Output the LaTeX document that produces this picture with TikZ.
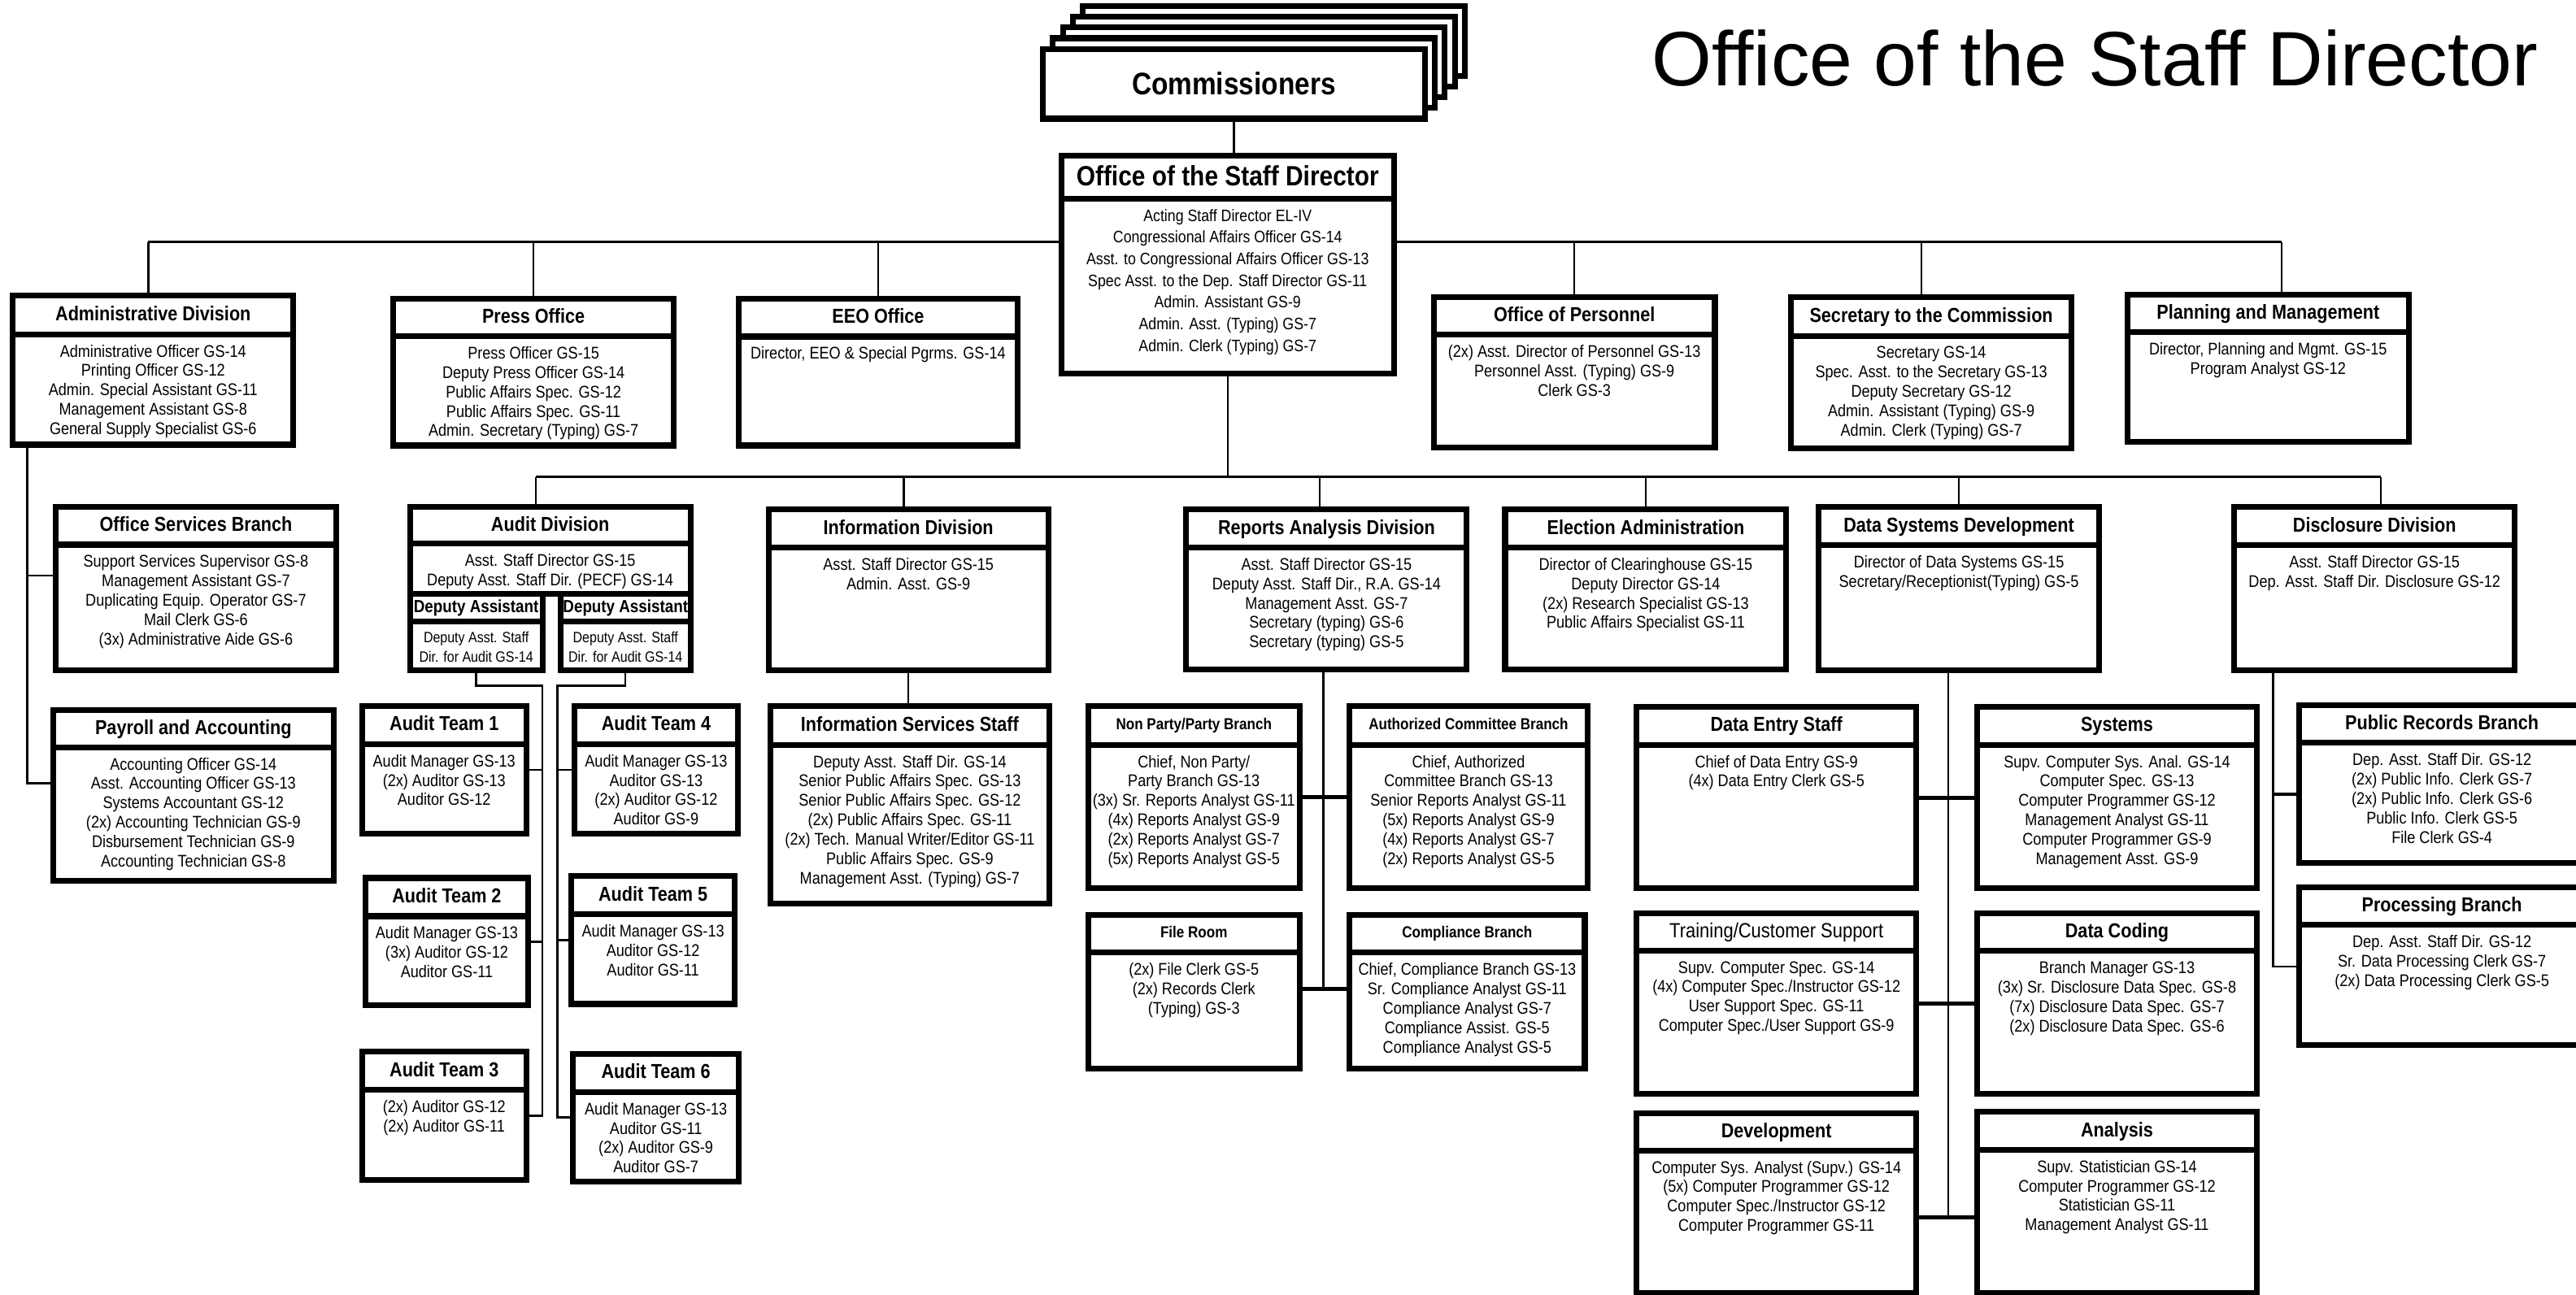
\documentclass[tikz,border=0pt]{standalone}
\usepackage{fontspec}
\setmainfont[FakeStretch=0.87]{Liberation Sans}
\newfontfamily\titlefont{Liberation Sans}
\usetikzlibrary{calc}
\tikzset{
  obx/.style={draw, line width=3.5pt, fill=white, inner sep=0pt, rectangle},
  sepl/.style={line width=3.5pt},
  hdr/.style={font=\bfseries\fontsize{12.3}{14}\selectfont, anchor=base, yshift=-4.4pt, inner sep=0pt},
  hdrr/.style={font=\fontsize{12.5}{14}\selectfont, anchor=base, yshift=-4.5pt, inner sep=0pt},
  hdrs/.style={font=\bfseries\fontsize{9.7}{12}\selectfont, anchor=base, yshift=-3.5pt, inner sep=0pt},
  hdrd/.style={font=\bfseries\fontsize{10.7}{12}\selectfont, anchor=base, yshift=-3.8pt, inner sep=0pt},
  hdrL/.style={font=\bfseries\fontsize{17}{20}\selectfont, anchor=base, yshift=-6.1pt, inner sep=0pt},
  bdy/.style={font=\fontsize{10.3}{11.8}\selectfont, align=center, anchor=north, inner sep=0pt},
  conn/.style={line width=1.2pt},
  conk/.style={line width=2.2pt},
  titl/.style={font=\titlefont\fontsize{47}{50}\selectfont, inner sep=0pt}
}
% name, x1, y1, x2, y2 (outer edges), separator y, header style, header, body
\newcommand\orgbox[9]{%
  \node[obx, minimum width={(#4-#2-3.5)*1pt}, minimum height={(#5-#3-3.5)*1pt}] (#1) at ({(#2+#4)/2},{(#3+#5)/2}) {};
  \draw[sepl] ({#2+1.75},#6) -- ({#4-1.75},#6);
  \node[#7] (#1-h) at ({(#2+#4)/2},{(#3+#6)/2}) {#8};
  \node[bdy] (#1-b) at ({(#2+#4)/2},{#6+6.2}) {#9};
}
\begin{document}
\begin{tikzpicture}[x=1pt,y=-1pt]
\useasboundingbox (0,0) rectangle (1568,788.4);
\clip (0,0) rectangle (1568,788.4);

% title
\node[titl, anchor=base west] (title) at (1005.5,52) {Office of the Staff Director};

% Commissioners stack
\foreach \k in {4,3,2,1} {
  \node[obx, minimum width=232.5pt, minimum height=42.5pt] (comm\k) at ({751+6.1*\k},{51-6.5*\k}) {};
}
\node[obx, minimum width=232.5pt, minimum height=42.5pt] (comm) at (751,51) {};
\node[font=\bfseries\fontsize{19}{22}\selectfont, anchor=base, yshift=-6.8pt, inner sep=0pt] (comm-h) at (751,51) {Commissioners};

% Office of the Staff Director
\begin{scope}[bdy/.append style={font=\fontsize{10.1}{13.2}\selectfont}]
\orgbox{osd}{644.2}{92.9}{850.3}{229.3}{121}{hdrL}{Office of the Staff Director}{Acting Staff Director EL-IV\\Congressional Affairs Officer GS-14\\Asst. to Congressional Affairs Officer GS-13\\Spec Asst. to the Dep. Staff Director GS-11\\Admin. Assistant GS-9\\Admin. Asst. (Typing) GS-7\\Admin. Clerk (Typing) GS-7}
\end{scope}

% top row
\orgbox{admin}{6}{178}{180.4}{272.5}{203.5}{hdr}{Administrative Division}{Administrative Officer GS-14\\Printing Officer GS-12\\Admin. Special Assistant GS-11\\Management Assistant GS-8\\General Supply Specialist GS-6}
\orgbox{press}{237.5}{180}{412}{273}{204.7}{hdr}{Press Office}{Press Officer GS-15\\Deputy Press Officer GS-14\\Public Affairs Spec. GS-12\\Public Affairs Spec. GS-11\\Admin. Secretary (Typing) GS-7}
\orgbox{eeo}{448}{180}{621}{273}{204.9}{hdr}{EEO Office}{Director, EEO \& Special Pgrms. GS-14}
\orgbox{pers}{871}{179}{1045.6}{274}{203.7}{hdr}{Office of Personnel}{(2x) Asst. Director of Personnel GS-13\\Personnel Asst. (Typing) GS-9\\Clerk GS-3}
\orgbox{sec}{1088.3}{179.3}{1262.8}{274.7}{204.6}{hdr}{Secretary to the Commission}{Secretary GS-14\\Spec. Asst. to the Secretary GS-13\\Deputy Secretary GS-12\\Admin. Assistant (Typing) GS-9\\Admin. Clerk (Typing) GS-7}
\orgbox{plan}{1293.3}{177.7}{1467.8}{270.6}{202.4}{hdr}{Planning and Management}{Director, Planning and Mgmt. GS-15\\Program Analyst GS-12}

% admin children
\orgbox{offsvc}{32}{306.7}{206.5}{410}{331.6}{hdr}{Office Services Branch}{Support Services Supervisor GS-8\\Management Assistant GS-7\\Duplicating Equip. Operator GS-7\\Mail Clerk GS-6\\(3x) Administrative Aide GS-6}
\orgbox{payroll}{30.6}{430.4}{204.8}{538}{454.9}{hdr}{Payroll and Accounting}{Accounting Officer GS-14\\Asst. Accounting Officer GS-13\\Systems Accountant GS-12\\(2x) Accounting Technician GS-9\\Disbursement Technician GS-9\\Accounting Technician GS-8}

% second row
\orgbox{auditdiv}{247.8}{306.7}{422}{363.4}{331}{hdr}{Audit Division}{Asst. Staff Director GS-15\\Deputy Asst. Staff Dir. (PECF) GS-14}
\begin{scope}[bdy/.append style={font=\fontsize{9.1}{11.9}\selectfont}]
\orgbox{dep1}{247.8}{359.9}{331.9}{410}{378.2}{hdrd}{Deputy Assistant}{Deputy Asst. Staff\\Dir. for Audit GS-14}
\orgbox{dep2}{339.5}{359.9}{422}{410}{378.2}{hdrd}{Deputy Assistant}{Deputy Asst. Staff\\Dir. for Audit GS-14}
\end{scope}
\orgbox{infodiv}{466}{308.5}{639.9}{410}{333.3}{hdr}{Information Division}{Asst. Staff Director GS-15\\Admin. Asst. GS-9}
\orgbox{rad}{720.3}{308.5}{894.6}{409.5}{333.3}{hdr}{Reports Analysis Division}{Asst. Staff Director GS-15\\Deputy Asst. Staff Dir., R.A. GS-14\\Management Asst. GS-7\\Secretary (typing) GS-6\\Secretary (typing) GS-5}
\orgbox{elect}{914.4}{308.5}{1089.1}{409.5}{333.3}{hdr}{Election Administration}{Director of Clearinghouse GS-15\\Deputy Director GS-14\\(2x) Research Specialist GS-13\\Public Affairs Specialist GS-11}
\orgbox{dsd}{1105.3}{306.9}{1279.4}{410}{332}{hdr}{Data Systems Development}{Director of Data Systems GS-15\\Secretary/Receptionist(Typing) GS-5}
\orgbox{discl}{1358.3}{306.9}{1532.4}{410}{332}{hdr}{Disclosure Division}{Asst. Staff Director GS-15\\Dep. Asst. Staff Dir. Disclosure GS-12}

% audit teams
\orgbox{at1}{218.7}{428}{322}{509.3}{453}{hdr}{Audit Team 1}{Audit Manager GS-13\\(2x) Auditor GS-13\\Auditor GS-12}
\orgbox{at2}{220.5}{532.8}{323.4}{613.8}{557.8}{hdr}{Audit Team 2}{Audit Manager GS-13\\(3x) Auditor GS-12\\Auditor GS-11}
\orgbox{at3}{218.7}{638.5}{322}{720.1}{663.5}{hdr}{Audit Team 3}{(2x) Auditor GS-12\\(2x) Auditor GS-11}
\orgbox{at4}{347.8}{428}{451}{509.3}{453}{hdr}{Audit Team 4}{Audit Manager GS-13\\Auditor GS-13\\(2x) Auditor GS-12\\Auditor GS-9}
\orgbox{at5}{346}{531.7}{449}{613}{556.7}{hdr}{Audit Team 5}{Audit Manager GS-13\\Auditor GS-12\\Auditor GS-11}
\orgbox{at6}{347}{639.8}{451.5}{721}{664.8}{hdr}{Audit Team 6}{Audit Manager GS-13\\Auditor GS-11\\(2x) Auditor GS-9\\Auditor GS-7}

% information
\orgbox{infosvc}{467}{428.1}{640.6}{551.9}{453.4}{hdr}{Information Services Staff}{Deputy Asst. Staff Dir. GS-14\\Senior Public Affairs Spec. GS-13\\Senior Public Affairs Spec. GS-12\\(2x) Public Affairs Spec. GS-11\\(2x) Tech. Manual Writer/Editor GS-11\\Public Affairs Spec. GS-9\\Management Asst. (Typing) GS-7}

% reports analysis branches
\orgbox{nonparty}{660.7}{428.1}{792.7}{542.5}{453.4}{hdrs}{Non Party/Party Branch}{Chief, Non Party/\\Party Branch GS-13\\(3x) Sr. Reports Analyst GS-11\\(4x) Reports Analyst GS-9\\(2x) Reports Analyst GS-7\\(5x) Reports Analyst GS-5}
\orgbox{authcomm}{819.7}{428.1}{968}{542.5}{453.4}{hdrs}{Authorized Committee Branch}{Chief, Authorized\\Committee Branch GS-13\\Senior Reports Analyst GS-11\\(5x) Reports Analyst GS-9\\(4x) Reports Analyst GS-7\\(2x) Reports Analyst GS-5}
\orgbox{fileroom}{660.7}{555.2}{792.7}{652.5}{580}{hdrs}{File Room}{(2x) File Clerk GS-5\\(2x) Records Clerk\\(Typing) GS-3}
\orgbox{compl}{819.7}{555.2}{966.4}{652.5}{580}{hdrs}{Compliance Branch}{Chief, Compliance Branch GS-13\\Sr. Compliance Analyst GS-11\\Compliance Analyst GS-7\\Compliance Assist. GS-5\\Compliance Analyst GS-5}

% data systems
\orgbox{dataentry}{994.3}{428.7}{1168.3}{542.7}{453.4}{hdr}{Data Entry Staff}{Chief of Data Entry GS-9\\(4x) Data Entry Clerk GS-5}
\orgbox{systems}{1201.8}{428.7}{1375.4}{542.7}{453.4}{hdr}{Systems}{Supv. Computer Sys. Anal. GS-14\\Computer Spec. GS-13\\Computer Programmer GS-12\\Management Analyst GS-11\\Computer Programmer GS-9\\Management Asst. GS-9}
\orgbox{training}{994.3}{554.1}{1168.3}{667.8}{578.9}{hdrr}{Training/Customer Support}{Supv. Computer Spec. GS-14\\(4x) Computer Spec./Instructor GS-12\\User Support Spec. GS-11\\Computer Spec./User Support GS-9}
\orgbox{datacoding}{1201.8}{554.1}{1375.4}{667.8}{578.9}{hdr}{Data Coding}{Branch Manager GS-13\\(3x) Sr. Disclosure Data Spec. GS-8\\(7x) Disclosure Data Spec. GS-7\\(2x) Disclosure Data Spec. GS-6}
\orgbox{devel}{994.3}{676}{1168.3}{789.2}{700.4}{hdr}{Development}{Computer Sys. Analyst (Supv.) GS-14\\(5x) Computer Programmer GS-12\\Computer Spec./Instructor GS-12\\Computer Programmer GS-11}
\orgbox{analysis}{1201.8}{675.3}{1375.4}{789.2}{700}{hdr}{Analysis}{Supv. Statistician GS-14\\Computer Programmer GS-12\\Statistician GS-11\\Management Analyst GS-11}

% disclosure branches
\orgbox{pubrec}{1397.8}{427.4}{1575}{527.1}{452.2}{hdr}{Public Records Branch}{Dep. Asst. Staff Dir. GS-12\\(2x) Public Info. Clerk GS-7\\(2x) Public Info. Clerk GS-6\\Public Info. Clerk GS-5\\File Clerk GS-4}
\orgbox{processing}{1397.8}{538.3}{1575}{637.8}{563}{hdr}{Processing Branch}{Dep. Asst. Staff Dir. GS-12\\Sr. Data Processing Clerk GS-7\\(2x) Data Processing Clerk GS-5}

% ---------- connectors ----------
\draw[conn] (comm.south) -- (comm.south |- osd.north);

\coordinate (busL) at (90.3,147.3);
\coordinate (busR) at (1388.7,147.3);
\draw[conn] (busL) -- (busL -| osd.west);
\draw[conn] (busR) -- (busR -| osd.east);
\draw[conn] (busL) -- (busL |- admin.north);
\draw[conn] (press.north) -- (press.north |- busL);
\draw[conn] (eeo.north) -- (eeo.north |- busL);
\draw[conn] (pers.north) -- (pers.north |- busL);
\draw[conn] ($(sec.north)+(-6,0)$) -- ($(sec.north |- busL)+(-6,0)$);
\draw[conn] (busR) -- (busR |- plan.north);

\coordinate (bus2L) at (326.2,290.3);
\coordinate (bus2R) at (1449.2,290.3);
\draw[conn] (bus2L) -- (bus2R);
\draw[conn] (osd.south) -- (osd.south |- bus2L);
\draw[conn] (bus2L) -- (bus2L |- auditdiv.north);
\draw[conn] ($(infodiv.north)+(-2.8,0)$) -- ($(infodiv.north |- bus2L)+(-2.8,0)$);
\draw[conn] ($(rad.north)+(-4.3,0)$) -- ($(rad.north |- bus2L)+(-4.3,0)$);
\draw[conn] (elect.north) -- (elect.north |- bus2L);
\draw[conn] (dsd.north) -- (dsd.north |- bus2L);
\draw[conn] (bus2R) -- (bus2R |- discl.north);

% administrative division
\coordinate (adm1) at (16.5,350.3);
\coordinate (adm2) at (16.5,476.8);
\draw[conn] (adm1 |- admin.south) -- (adm2) -- (adm2 -| payroll.west);
\draw[conn] (adm1) -- (adm1 -| offsvc.west);

% audit division
\coordinate (aL) at (330,417.5);
\coordinate (aR) at (339.2,417.5);
\draw[conn] (dep1.south) |- (aL) -- (aL |- at3.east) -- (at3.east);
\draw[conn] (at1.east) -- (at1.east -| aL);
\draw[conn] (at2.east) -- (at2.east -| aL);
\draw[conn] (dep2.south) |- (aR) -- (aR |- at6.west) -- (at6.west);
\draw[conn] (at4.west) -- (at4.west -| aR);
\draw[conn] (at5.west) -- (at5.west -| aR);

% information division
\draw[conn] (infodiv.south) -- (infodiv.south |- infosvc.north);

% reports analysis division
\coordinate (rB) at (805.5,602);
\draw[conn] (rB |- rad.south) -- (rB);
\draw[conk] (nonparty.east) -- (authcomm.west);
\draw[conk] (fileroom.east |- rB) -- (compl.west |- rB);

% data systems development
\coordinate (dB) at (1185.8,741.1);
\draw[conn] (dB |- dsd.south) -- (dB);
\draw[conk] (dataentry.east) -- (systems.west);
\draw[conk] (training.east) -- (datacoding.west);
\draw[conk] (devel.east |- dB) -- (analysis.west |- dB);

% disclosure division
\coordinate (xA) at (1383.6,483.5);
\coordinate (xB) at (1383.6,588.6);
\draw[conn] (xB |- discl.south) -- (xB) -- (xB -| processing.west);
\draw[conk] (xA) -- (xA -| pubrec.west);
\end{tikzpicture}
\end{document}
